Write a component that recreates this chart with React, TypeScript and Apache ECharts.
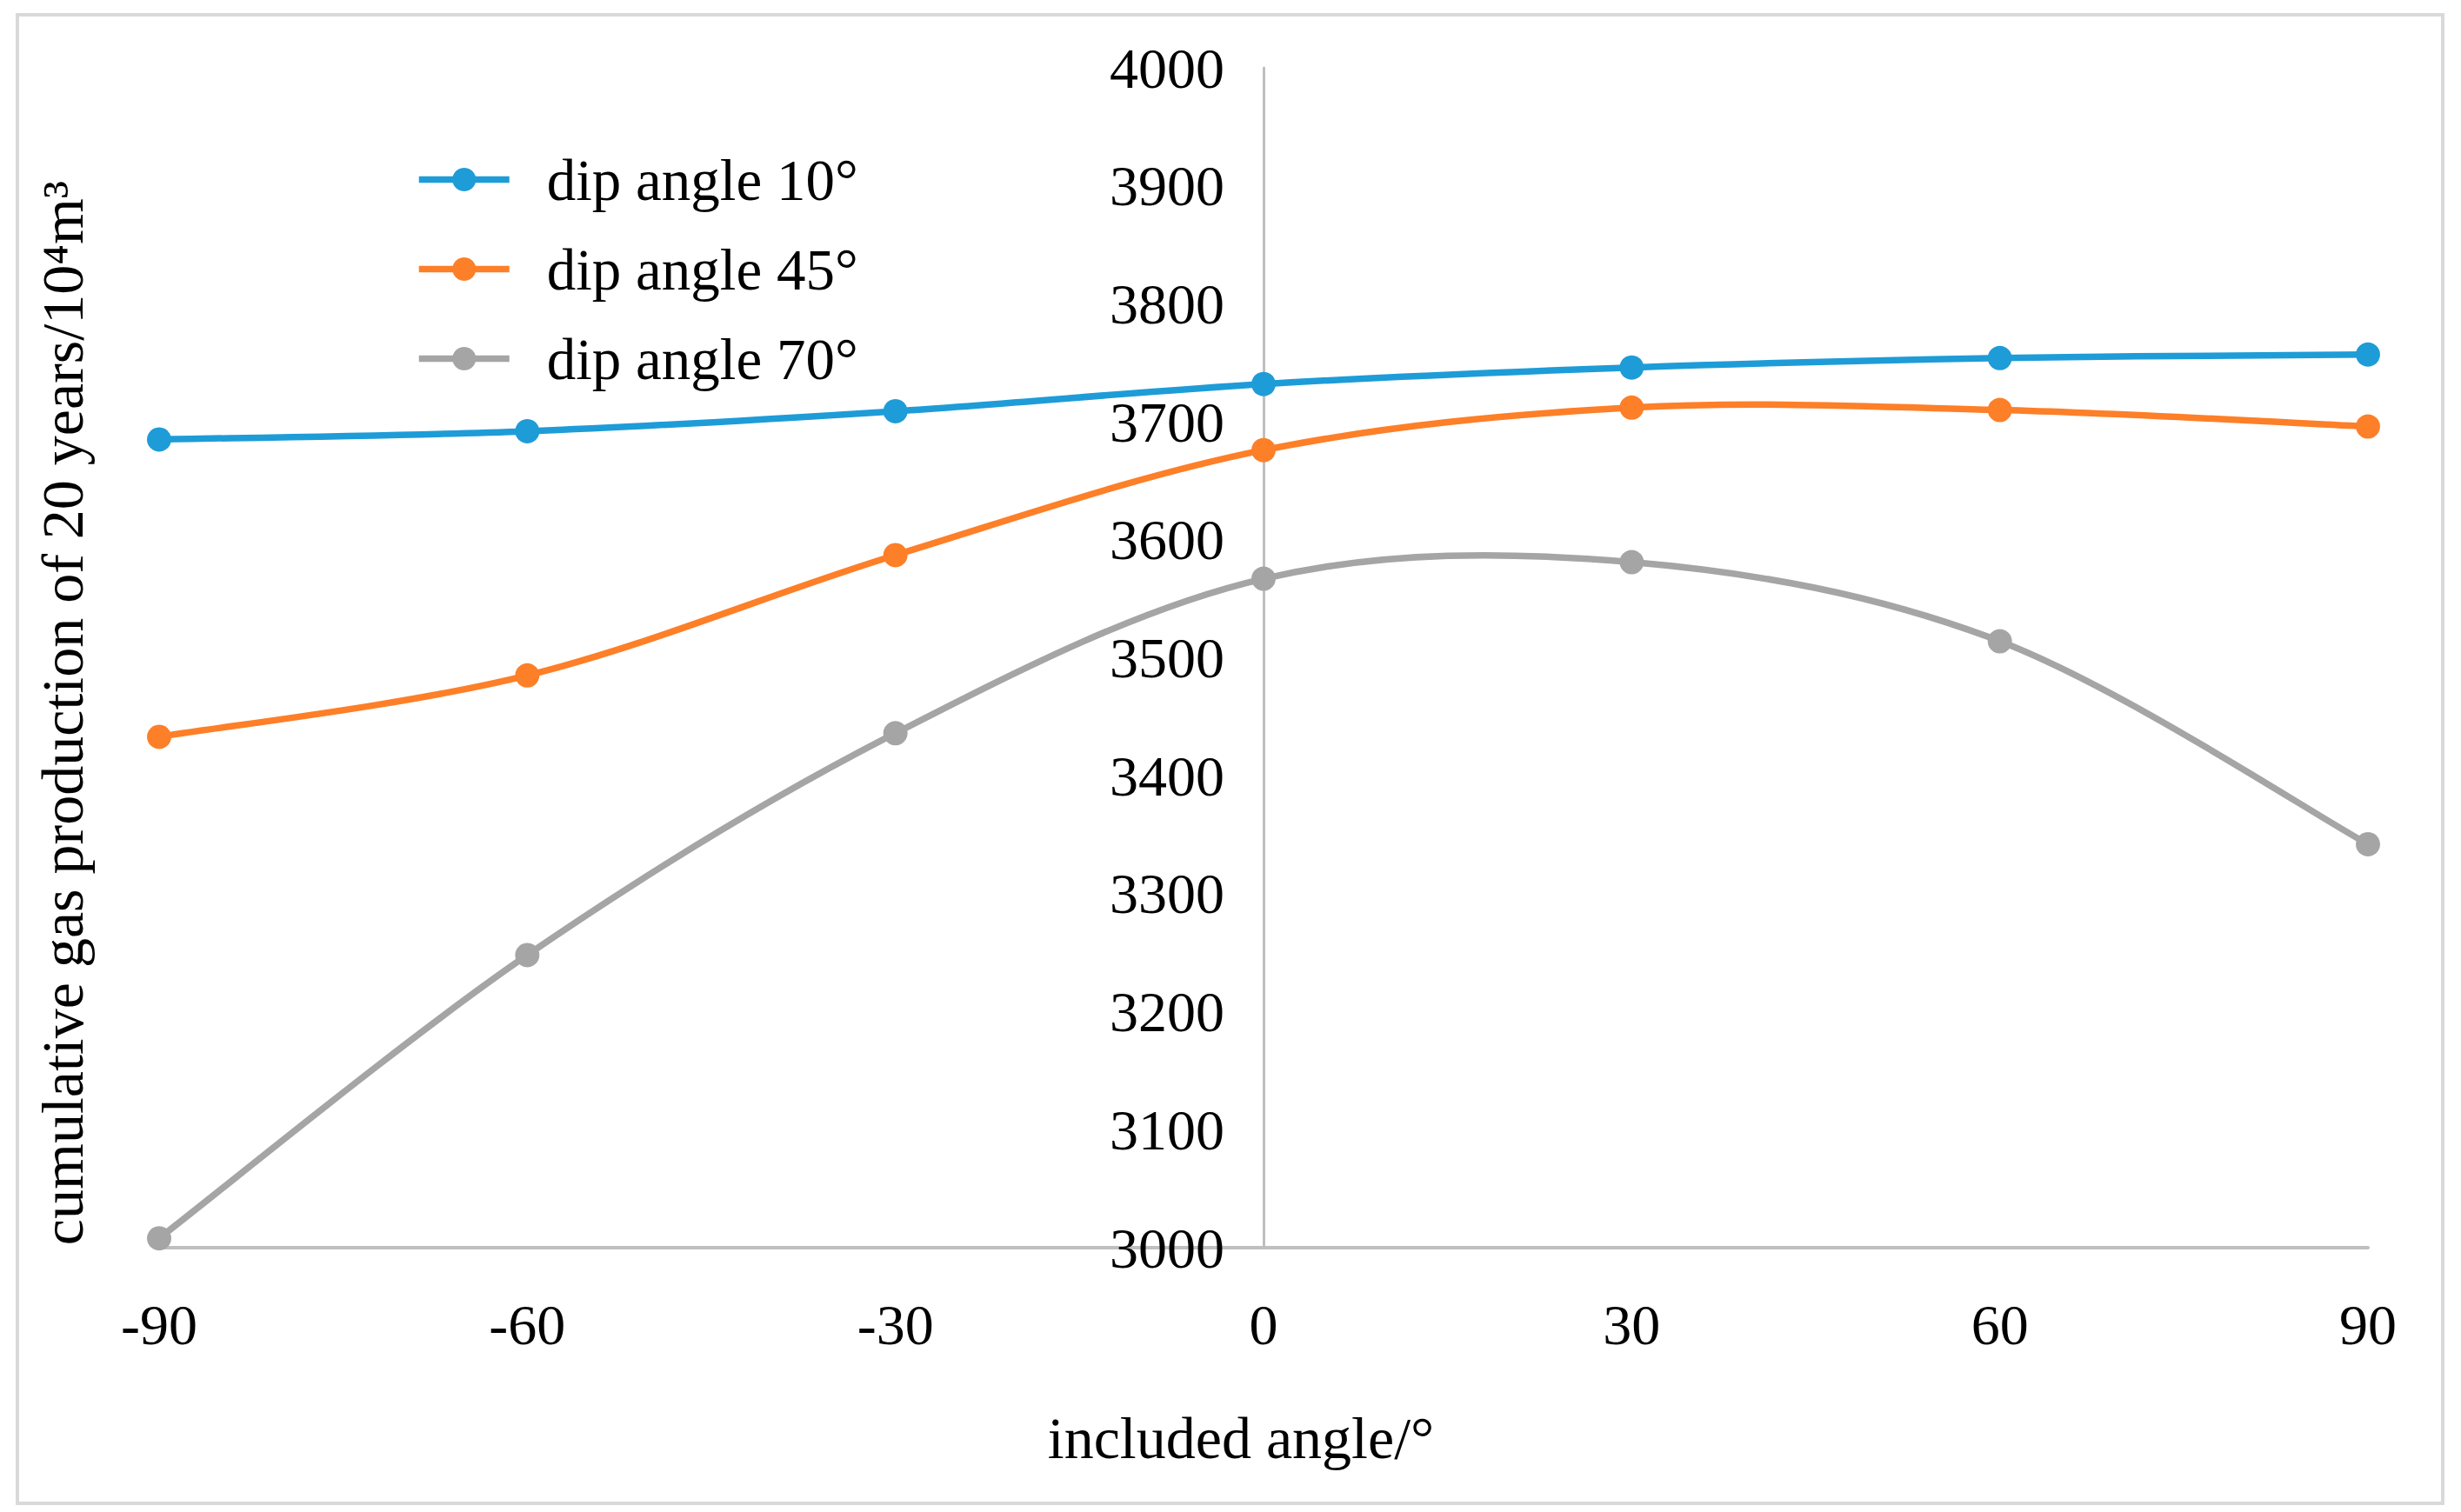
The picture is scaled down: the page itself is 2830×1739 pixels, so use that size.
import React, { useEffect, useRef } from "react";
import * as echarts from "echarts";

const includedAngles = [-90, -60, -30, 0, 30, 60, 90];
const seriesNames = ["dip angle 10°", "dip angle 45°", "dip angle 70°"];
const dip10 = [3685, 3692, 3709, 3732, 3746, 3754, 3757];
const dip45 = [3433, 3485, 3587, 3676, 3712, 3710, 3696];
const dip70 = [3008, 3248, 3436, 3567, 3581, 3514, 3342];
const seriesColors = ["#1E9CD7", "#FD7F28", "#A5A5A5"];
const xTitle = "included angle/°";
const yTitle = "cumulative gas production of 20 years/10⁴m³";

const FONT = "'Liberation Serif', 'Times New Roman', serif";
const LINE_W = 7.5;

export default function App() {
  const ref = useRef<HTMLDivElement>(null);
  useEffect(() => {
    if (!ref.current) return;
    const chart = echarts.init(ref.current, null, { renderer: "svg" });
    const values = [dip10, dip45, dip70];

    // Excel-style smoothed line (Catmull-Rom Bezier) through the data points,
    // positioned by the chart's own axes via api.coord.
    const makeRenderItem = (vals: number[], color: string) => (params: any, api: any) => {
      const i = params.dataIndex;
      const n = vals.length;
      if (i >= n - 1) return null;
      const pt = (k: number) => {
        const kk = Math.max(0, Math.min(n - 1, k));
        return api.coord([includedAngles[kk], vals[kk]]);
      };
      const p0 = pt(i - 1);
      const p1 = pt(i);
      const p2 = pt(i + 1);
      const p3 = pt(i + 2);
      const c1 = [p1[0] + (p2[0] - p0[0]) / 6, p1[1] + (p2[1] - p0[1]) / 6];
      const c2 = [p2[0] - (p3[0] - p1[0]) / 6, p2[1] - (p3[1] - p1[1]) / 6];
      return {
        type: "bezierCurve",
        shape: {
          x1: p1[0],
          y1: p1[1],
          cpx1: c1[0],
          cpy1: c1[1],
          cpx2: c2[0],
          cpy2: c2[1],
          x2: p2[0],
          y2: p2[1],
        },
        style: { stroke: color, lineWidth: LINE_W, fill: "none", lineCap: "round" },
        silent: true,
      };
    };

    const curveSeries = seriesNames.map((name, i) => ({
      name: name + " curve",
      type: "custom",
      coordinateSystem: "cartesian2d",
      renderItem: makeRenderItem(values[i], seriesColors[i]),
      data: includedAngles.map((x, j) => [x, values[i][j]]),
      encode: { x: 0, y: 1 },
      z: 2 + (3 - i),
      silent: true,
    }));

    const markerSeries = seriesNames.map((name, i) => ({
      name,
      type: "line",
      symbol: "circle",
      symbolSize: 28,
      data: includedAngles.map((x, j) => [x, values[i][j]]),
      lineStyle: { color: seriesColors[i], width: LINE_W, opacity: 0 },
      itemStyle: { color: seriesColors[i] },
      z: 6 + (3 - i),
    }));

    const option: any = {
      animation: false,
      backgroundColor: "#ffffff",
      textStyle: { fontFamily: FONT },
      grid: {
        left: 183,
        right: 107,
        top: 78,
        bottom: 304,
        containLabel: false,
        outerBoundsMode: "none",
      },
      legend: {
        orient: "vertical",
        left: 478,
        top: 173,
        padding: 0,
        itemWidth: 104,
        itemHeight: 34,
        itemGap: 36,
        textStyle: {
          fontFamily: FONT,
          fontSize: 67,
          lineHeight: 66,
          color: "#000",
          padding: [0, 0, 0, 38],
        },
        data: seriesNames.map((name, i) => ({
          name,
          lineStyle: { color: seriesColors[i], width: LINE_W, opacity: 1 },
          itemStyle: { color: seriesColors[i] },
        })),
      },
      xAxis: {
        type: "value",
        min: -90,
        max: 90,
        interval: 30,
        name: xTitle,
        nameLocation: "middle",
        nameGap: 185,
        nameTextStyle: {
          fontFamily: FONT,
          fontSize: 68,
          color: "#000",
          padding: [0, 52, 0, 0],
        },
        axisLine: { show: true, onZero: false, lineStyle: { color: "#BFBFBF", width: 4 } },
        axisTick: { show: false },
        splitLine: { show: false },
        axisLabel: { fontFamily: FONT, fontSize: 66, color: "#000", margin: 55 },
      },
      yAxis: {
        type: "value",
        position: "left",
        offset: -1270,
        min: 3000,
        max: 4000,
        interval: 100,
        axisLine: { show: true, onZero: false, lineStyle: { color: "#BFBFBF", width: 3 } },
        axisTick: { show: false },
        splitLine: { show: false },
        axisLabel: {
          fontFamily: FONT,
          fontSize: 66,
          color: "#000",
          margin: 45,
          formatter: (v: number) => String(v),
        },
      },
      series: [...curveSeries, ...markerSeries],
      graphic: [
        {
          type: "rect",
          shape: { x: 20, y: 17, width: 2789, height: 1712 },
          style: { fill: "none", stroke: "#D9D9D9", lineWidth: 4 },
          silent: true,
          z: -1,
        },
        {
          type: "text",
          x: 72,
          y: 820,
          rotation: Math.PI / 2,
          style: {
            text: yTitle,
            fontFamily: FONT,
            fontSize: 68,
            fill: "#000",
            align: "center",
            verticalAlign: "middle",
          },
        },
      ],
    };
    chart.setOption(option);
    return () => chart.dispose();
  }, []);
  return (
    <div
      ref={ref}
      style={{ position: "fixed", left: 0, top: 0, width: 2830, height: 1739 }}
    />
  );
}
